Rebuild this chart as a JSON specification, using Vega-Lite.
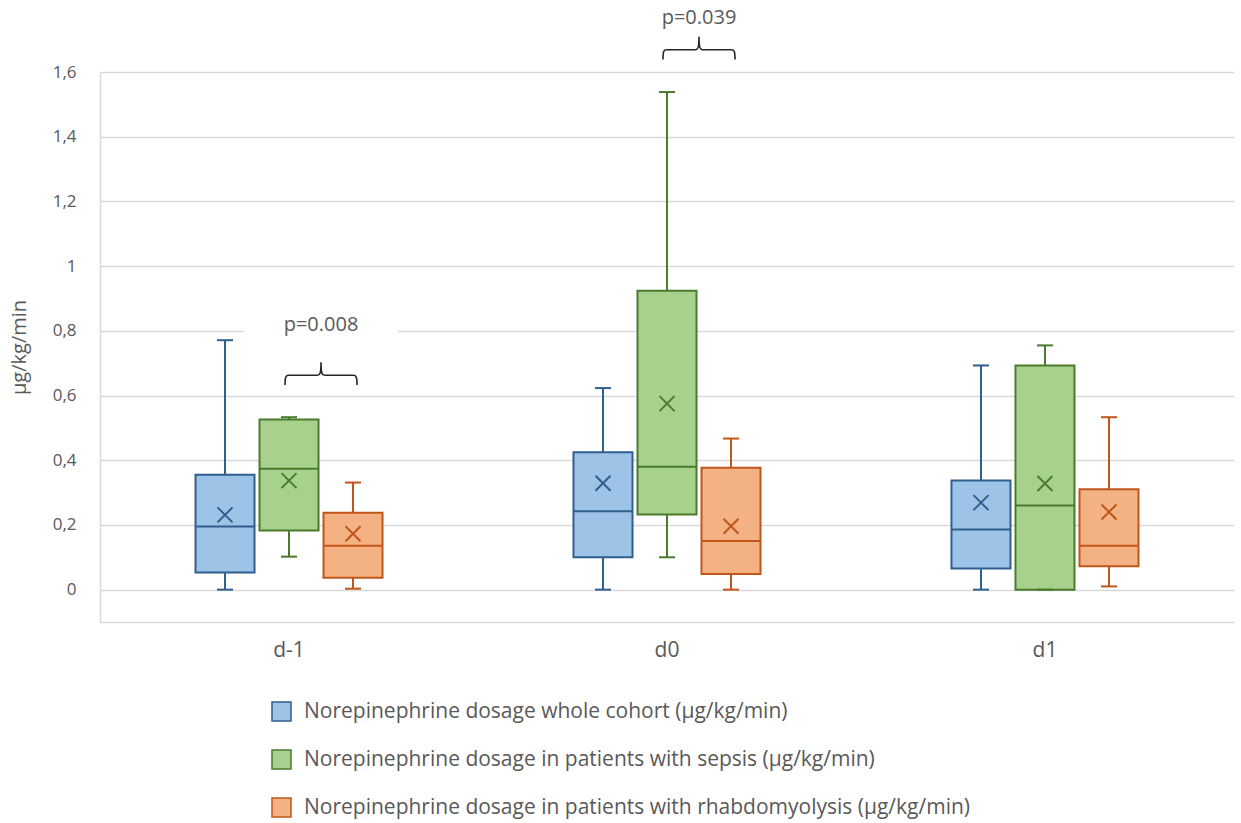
{
  "$schema": "https://vega.github.io/schema/vega-lite/v6.json",
  "width": 1134,
  "height": 550,
  "autosize": {"type": "none"},
  "padding": {"left": 100, "top": 72, "right": 7, "bottom": 201},
  "background": "white",
  "config": {
    "view": {"stroke": null},
    "font": "Open Sans",
    "legend": {
      "orient": "none", "legendX": 171, "legendY": 629, "direction": "vertical",
      "symbolType": "square", "symbolSize": 361, "symbolStrokeWidth": 1.5,
      "labelFont": "Open Sans", "labelFontSize": 21, "labelColor": "#595959",
      "labelLimit": 1000, "labelOffset": 12, "rowPadding": 23, "padding": 0
    }
  },
  "datasets": {
    "boxes": [
      {"day": "d-1", "slot": "whole", "group": "Norepinephrine dosage whole cohort (µg/kg/min)", "min": 0, "q1": 0.053, "median": 0.195, "q3": 0.355, "max": 0.771, "mean": 0.231},
      {"day": "d-1", "slot": "sepsis", "group": "Norepinephrine dosage in patients with sepsis (µg/kg/min)", "min": 0.102, "q1": 0.183, "median": 0.374, "q3": 0.526, "max": 0.533, "mean": 0.337},
      {"day": "d-1", "slot": "rhabdo", "group": "Norepinephrine dosage in patients with rhabdomyolysis  (µg/kg/min)", "min": 0.003, "q1": 0.037, "median": 0.136, "q3": 0.238, "max": 0.331, "mean": 0.173},
      {"day": "d0", "slot": "whole", "group": "Norepinephrine dosage whole cohort (µg/kg/min)", "min": 0, "q1": 0.1, "median": 0.242, "q3": 0.425, "max": 0.623, "mean": 0.329},
      {"day": "d0", "slot": "sepsis", "group": "Norepinephrine dosage in patients with sepsis (µg/kg/min)", "min": 0.1, "q1": 0.232, "median": 0.38, "q3": 0.924, "max": 1.538, "mean": 0.575},
      {"day": "d0", "slot": "rhabdo", "group": "Norepinephrine dosage in patients with rhabdomyolysis  (µg/kg/min)", "min": 0, "q1": 0.048, "median": 0.15, "q3": 0.377, "max": 0.467, "mean": 0.196},
      {"day": "d1", "slot": "whole", "group": "Norepinephrine dosage whole cohort (µg/kg/min)", "min": 0, "q1": 0.065, "median": 0.186, "q3": 0.337, "max": 0.693, "mean": 0.269},
      {"day": "d1", "slot": "sepsis", "group": "Norepinephrine dosage in patients with sepsis (µg/kg/min)", "min": 0, "q1": 0, "median": 0.26, "q3": 0.693, "max": 0.755, "mean": 0.328},
      {"day": "d1", "slot": "rhabdo", "group": "Norepinephrine dosage in patients with rhabdomyolysis  (µg/kg/min)", "min": 0.01, "q1": 0.072, "median": 0.136, "q3": 0.31, "max": 0.533, "mean": 0.24}
    ],
    "annotations": [
      {"day": "d-1", "slot": "sr", "text": "p=0.008", "textY": 0.817, "braceY": 0.6625},
      {"day": "d0", "slot": "sr", "text": "p=0.039", "textY": 1.768, "braceY": 1.669}
    ],
    "gaps": [
      {"day": "d-1", "slot": "sr", "y": 0.817}
    ]
  },
  "encoding": {
    "x": {
      "field": "day", "type": "nominal", "title": null,
      "scale": {"domain": ["d-1", "d0", "d1"], "paddingInner": 0.5767, "paddingOuter": 0.2884},
      "axis": {"labelAngle": 0, "ticks": false, "domain": true, "domainColor": "#d9d9d9", "domainWidth": 1.5, "labelFontSize": 21, "labelColor": "#595959", "labelPadding": 17, "grid": false}
    },
    "xOffset": {
      "field": "slot", "type": "nominal",
      "scale": {"domain": ["whole", "ws", "sepsis", "sr", "rhabdo"], "paddingInner": 0, "paddingOuter": 0}
    }
  },
  "layer": [
    {
      "data": {"name": "gaps"},
      "mark": {"type": "point", "shape": "M-1,-0.2H1V0.2H-1Z", "size": 23716, "filled": true, "fill": "white", "opacity": 1, "strokeWidth": 0},
      "encoding": {
        "y": {"field": "y", "type": "quantitative", "scale": {"domain": [-0.1, 1.6], "nice": false, "zero": false},
          "title": "µg/kg/min",
          "axis": {"values": [0, 0.2, 0.4, 0.6, 0.8, 1, 1.2, 1.4, 1.6], "labelExpr": "replace(format(datum.value, '.1~f'), '.', ',')",
            "ticks": false, "domain": true, "domainColor": "#d9d9d9", "domainWidth": 1.5, "grid": true, "gridColor": "#d9d9d9", "gridWidth": 1.5,
            "labelFontSize": 17, "labelColor": "#595959", "labelPadding": 24,
            "titleFontSize": 20, "titleFontWeight": "normal", "titleColor": "#595959", "titlePadding": 23}}
      }
    },
    {
      "data": {"name": "boxes"},
      "mark": {"type": "rule", "strokeWidth": 2},
      "encoding": {
        "y": {"field": "min", "type": "quantitative"},
        "y2": {"field": "max"},
        "stroke": {"field": "group", "type": "nominal", "title": null,
          "scale": {"domain": ["Norepinephrine dosage whole cohort (µg/kg/min)", "Norepinephrine dosage in patients with sepsis (µg/kg/min)", "Norepinephrine dosage in patients with rhabdomyolysis  (µg/kg/min)"], "range": ["#2F5F8F", "#4A7A2C", "#C0561A"]}}
      }
    },
    {
      "data": {"name": "boxes"},
      "mark": {"type": "bar", "width": 59, "strokeWidth": 2, "fillOpacity": 1},
      "encoding": {
        "y": {"field": "q1", "type": "quantitative"},
        "y2": {"field": "q3"},
        "fill": {"field": "group", "type": "nominal", "title": null,
          "scale": {"domain": ["Norepinephrine dosage whole cohort (µg/kg/min)", "Norepinephrine dosage in patients with sepsis (µg/kg/min)", "Norepinephrine dosage in patients with rhabdomyolysis  (µg/kg/min)"], "range": ["#9DC3E6", "#A9D18E", "#F4B183"]}},
        "stroke": {"field": "group", "type": "nominal", "title": null}
      }
    },
    {
      "data": {"name": "boxes"},
      "mark": {"type": "point", "shape": "M-1,0H1", "size": 3481, "filled": false, "strokeWidth": 2, "opacity": 1},
      "encoding": {
        "y": {"field": "median", "type": "quantitative"},
        "stroke": {"field": "group", "type": "nominal", "title": null}
      }
    },
    {
      "data": {"name": "boxes"},
      "mark": {"type": "point", "shape": "M-1,0H1", "size": 256, "filled": false, "strokeWidth": 2, "opacity": 1},
      "encoding": {
        "y": {"field": "min", "type": "quantitative"},
        "stroke": {"field": "group", "type": "nominal", "title": null}
      }
    },
    {
      "data": {"name": "boxes"},
      "mark": {"type": "point", "shape": "M-1,0H1", "size": 256, "filled": false, "strokeWidth": 2, "opacity": 1},
      "encoding": {
        "y": {"field": "max", "type": "quantitative"},
        "stroke": {"field": "group", "type": "nominal", "title": null}
      }
    },
    {
      "data": {"name": "boxes"},
      "mark": {"type": "point", "shape": "M-1,-1L1,1M-1,1L1,-1", "size": 225, "filled": false, "strokeWidth": 2, "opacity": 1},
      "encoding": {
        "y": {"field": "mean", "type": "quantitative"},
        "stroke": {"field": "group", "type": "nominal", "title": null}
      }
    },
    {
      "data": {"name": "annotations"},
      "mark": {"type": "text", "fontSize": 20, "color": "#595959", "align": "center", "baseline": "middle"},
      "encoding": {
        "y": {"field": "textY", "type": "quantitative"},
        "text": {"field": "text"}
      }
    },
    {
      "data": {"name": "annotations"},
      "mark": {"type": "point", "shape": "M-1,0.27C-1,0.05 -0.98,0 -0.9,0L-0.1,0C-0.03,0 0,-0.05 0,-0.36C0,-0.05 0.03,0 0.1,0L0.9,0C0.98,0 1,0.05 1,0.27", "size": 5184, "filled": false, "stroke": "#262626", "strokeWidth": 1.6, "opacity": 1},
      "encoding": {
        "y": {"field": "braceY", "type": "quantitative"}
      }
    }
  ]
}
